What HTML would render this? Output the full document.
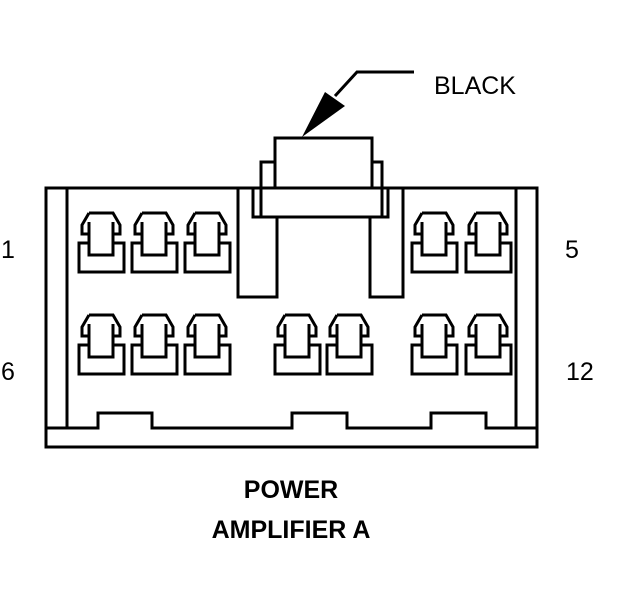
<!DOCTYPE html>
<html><head><style>html,body{margin:0;padding:0;background:#fff;}svg{display:block;}</style></head>
<body>
<svg width="624" height="600" viewBox="0 0 624 600" xmlns="http://www.w3.org/2000/svg">
<defs>
<g id="t" fill="none" stroke="#000" stroke-width="3">
  <path d="M10 0 H34 L41 12 V21 H35"/>
  <path d="M10 0 L3 12 V21 H9"/>
  <path d="M10 9 V42 H34 V9"/>
  <path d="M10 30 H0 V59 H45 V30 H34"/>
</g>
</defs>
<g fill="none" stroke="#000" stroke-width="3">
  <path d="M238 188 H46 V447 H537 V188 H403"/>
  <line x1="67" y1="188" x2="67" y2="428"/>
  <line x1="516" y1="188" x2="516" y2="428"/>
  <path d="M46 428 H98 V413 H152 V428 H292 V413 H347 V428 H431 V413 H486 V428 H537"/>
  <path d="M238 188 V297 H277 V217"/>
  <path d="M238 188 H253 V217 H388 V188 H403 V297 H370 V217"/>
  <line x1="253" y1="188" x2="388" y2="188"/>
  <path d="M261 217 V162 H275"/>
  <path d="M382 217 V162 H372"/>
  <path d="M275 188 V138 H372 V188"/>
  <path d="M414 72 H357 L335 96"/>
</g>
<polygon points="302,137 325,92 345,106" fill="#000"/>
<g>
  <use href="#t" x="79" y="213"/><use href="#t" x="132" y="213"/><use href="#t" x="185" y="213"/>
  <use href="#t" x="412" y="213"/><use href="#t" x="466" y="213"/>
  <use href="#t" x="79" y="315"/><use href="#t" x="132" y="315"/><use href="#t" x="185" y="315"/>
  <use href="#t" x="275" y="315"/><use href="#t" x="327" y="315"/>
  <use href="#t" x="412" y="315"/><use href="#t" x="466" y="315"/>
</g>
<g font-family="Liberation Sans, sans-serif" font-size="25" fill="#000">
  <text x="434" y="94">BLACK</text>
  <text x="1" y="258">1</text>
  <text x="565" y="258">5</text>
  <text x="1" y="380">6</text>
  <text x="566" y="380">12</text>
  <text x="291" y="498" text-anchor="middle" font-weight="bold">POWER</text>
  <text x="291" y="538" text-anchor="middle" font-weight="bold">AMPLIFIER A</text>
</g>
</svg>
</body></html>
